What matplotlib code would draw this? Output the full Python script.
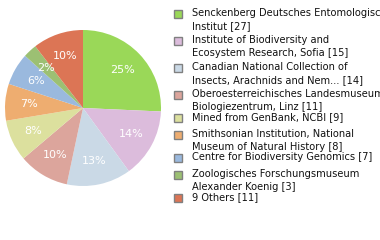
import matplotlib
matplotlib.use("Agg")
import matplotlib.pyplot as plt
import numpy as np
from matplotlib.patches import Rectangle

# Дані діаграми
labels = [
    "Senckenberg Deutsches Entomologisches\nInstitut [27]",
    "Institute of Biodiversity and\nEcosystem Research, Sofia [15]",
    "Canadian National Collection of\nInsects, Arachnids and Nem... [14]",
    "Oberoesterreichisches Landesmuseum\nBiologiezentrum, Linz [11]",
    "Mined from GenBank, NCBI [9]",
    "Smithsonian Institution, National\nMuseum of Natural History [8]",
    "Centre for Biodiversity Genomics [7]",
    "Zoologisches Forschungsmuseum\nAlexander Koenig [3]",
    "9 Others [11]",
]
counts = [27, 15, 14, 11, 9, 8, 7, 3, 11]
colors = ["#9ad858", "#dcbcdc", "#cad9e6", "#dca59c", "#dce09e",
          "#eead70", "#9ab9de", "#9cc073", "#dc7555"]
total = sum(counts)
pct_labels = [f"{int(c * 100 / total)}%" for c in counts]

W, H = 380, 240
fig = plt.figure(figsize=(W / 100, H / 100), dpi=100)

# Кругова діаграма
cx, cy, r = 83, 108, 78
ax = fig.add_axes([(cx - r) / W, 1 - (cy + r) / H, 2 * r / W, 2 * r / H])
wedges, _ = ax.pie(counts, colors=colors, startangle=90, counterclock=False,
                   wedgeprops=dict(linewidth=0))
for w, txt in zip(wedges, pct_labels):
    ang = np.deg2rad((w.theta1 + w.theta2) / 2)
    ax.text(0.7 * np.cos(ang), 0.7 * np.sin(ang), txt, color="white",
            ha="center", va="center", fontsize=8)
ax.set_xlim(-1, 1)
ax.set_ylim(-1, 1)
ax.set_aspect("equal")
ax.axis("off")

# Легенда
square_y = [14, 41, 68, 95, 118, 135, 158, 175, 198]
for y, col, lab in zip(square_y, colors, labels):
    fig.patches.append(Rectangle((174 / W, 1 - (y + 4) / H), 8 / W, 8 / H,
                                 facecolor=col, edgecolor="#808080",
                                 linewidth=1, transform=fig.transFigure))
    fig.text(192 / W, 1 - (y - 6) / H, lab, fontsize=7.1, va="top",
             ha="left", linespacing=1.4, color="#111111")

fig.savefig("out.png", dpi=100)
